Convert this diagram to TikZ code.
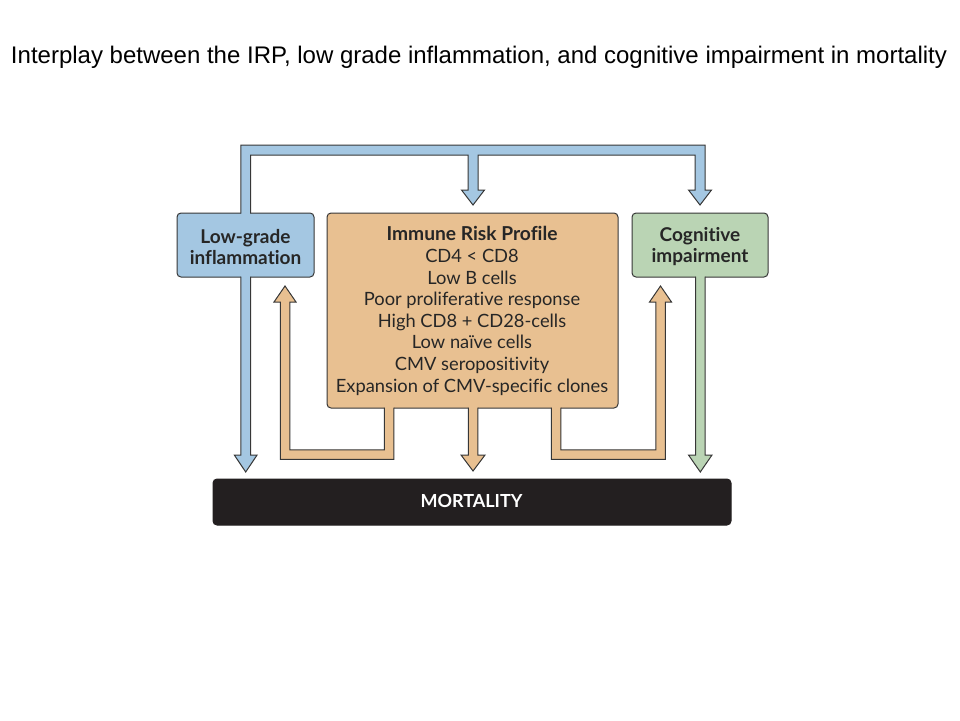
\documentclass[tikz,border=0pt]{standalone}
\usepackage{fontspec}
\setmainfont{Lato}[Ligatures=NoCommon]
\newfontfamily\titlefont{Liberation Sans}
\definecolor{cblue}{RGB}{164,199,226}
\definecolor{corange}{RGB}{232,192,145}
\definecolor{cgreen}{RGB}{186,212,180}
\definecolor{cline}{RGB}{55,55,55}
\definecolor{cdark}{RGB}{35,31,32}
\begin{document}
\begin{tikzpicture}[x=1pt,y=-1pt,
  boxstyle/.style={draw=cline,line width=1pt,rounded corners=4pt,inner sep=0pt},
  fatarrow/.style={draw=cline,line width=1pt,line join=miter},
  boxtext/.style={inner sep=0pt,align=center,text=black!85},
  boldtext/.style={boxtext,font=\bfseries\fontsize{19}{21}\selectfont}]
\useasboundingbox (0,0) rectangle (960,720);
\node[font=\titlefont\fontsize{24}{28}\selectfont,anchor=base] (title) at (479,63) {Interplay between the IRP, low grade inflammation, and cognitive impairment in mortality};
% boxes
\path[boxstyle,fill=cblue] (177,213) rectangle (314,277);
\node[boldtext] (lg) at (245.5,247) {Low-grade\\inflammation};
\path[boxstyle,fill=corange] (327,213) rectangle (618,408);
\node[boxtext,font=\fontsize{18.3}{21.6}\selectfont] (irp) at (472,311) {{\bfseries\fontsize{19.2}{21.6}\selectfont Immune Risk Profile}\\CD4 < CD8\\Low B cells\\Poor proliferative response\\High CD8 + CD28-cells\\Low naïve cells\\CMV seropositivity\\Expansion of CMV-specific clones};
\path[boxstyle,fill=cgreen] (632,213) rectangle (768,277);
\node[boldtext] (ci) at (700,247) {Cognitive\\impairment};
\path[boxstyle,fill=cdark,draw=cdark] (213,479) rectangle (731,525);
\node[font=\bfseries\fontsize{18}{21}\selectfont,text=white,inner sep=0pt] (mort) at (471.5,500.5) {MORTALITY};
% blue top arrow (from low-grade inflammation to IRP and cognitive impairment)
\fill[cblue] (240.9,214.5) -- (240.9,145) -- (705,145) -- (705,190) -- (711.5,190) -- (700,205) -- (688.5,190) -- (695,190) -- (695,155) -- (478,155) -- (478,190) -- (484.5,190) -- (473,205) -- (461.5,190) -- (468,190) -- (468,155) -- (250.5,155) -- (250.5,214.5) -- cycle;
\draw[fatarrow] (240.9,213.5) -- (240.9,145) -- (705,145) -- (705,190) -- (711.5,190) -- (700,205) -- (688.5,190) -- (695,190) -- (695,155) -- (478,155) -- (478,190) -- (484.5,190) -- (473,205) -- (461.5,190) -- (468,190) -- (468,155) -- (250.5,155) -- (250.5,213.5);
% blue down arrow
\fill[cblue] (240.9,275.5) -- (240.9,455) -- (234.3,455) -- (245.7,472) -- (257.1,455) -- (250.5,455) -- (250.5,275.5) -- cycle;
\draw[fatarrow] (240.9,276.5) -- (240.9,455) -- (234.3,455) -- (245.7,472) -- (257.1,455) -- (250.5,455) -- (250.5,276.5);
% green down arrow
\fill[cgreen] (695.5,275.5) -- (695.5,455) -- (688.5,455) -- (700.3,472) -- (712,455) -- (705,455) -- (705,275.5) -- cycle;
\draw[fatarrow] (695.5,276.5) -- (695.5,455) -- (688.5,455) -- (700.3,472) -- (712,455) -- (705,455) -- (705,276.5);
% orange left loop
\fill[corange] (384.25,406.5) -- (384.25,449.75) -- (289.75,449.75) -- (289.75,302) -- (296,302) -- (285,286) -- (274,302) -- (280.25,302) -- (280.25,459.25) -- (393.75,459.25) -- (393.75,406.5) -- cycle;
\draw[fatarrow] (384.25,407.5) -- (384.25,449.75) -- (289.75,449.75) -- (289.75,302) -- (296,302) -- (285,286) -- (274,302) -- (280.25,302) -- (280.25,459.25) -- (393.75,459.25) -- (393.75,407.5);
% orange centre arrow
\fill[corange] (468.25,406.5) -- (468.25,455) -- (461,455) -- (473,471) -- (485,455) -- (477.75,455) -- (477.75,406.5) -- cycle;
\draw[fatarrow] (468.25,407.5) -- (468.25,455) -- (461,455) -- (473,471) -- (485,455) -- (477.75,455) -- (477.75,407.5);
% orange right loop
\fill[corange] (551.25,406.5) -- (551.25,459.25) -- (665.25,459.25) -- (665.25,302) -- (671.5,302) -- (660.5,286) -- (649.5,302) -- (655.75,302) -- (655.75,449.75) -- (560.75,449.75) -- (560.75,406.5) -- cycle;
\draw[fatarrow] (551.25,407.5) -- (551.25,459.25) -- (665.25,459.25) -- (665.25,302) -- (671.5,302) -- (660.5,286) -- (649.5,302) -- (655.75,302) -- (655.75,449.75) -- (560.75,449.75) -- (560.75,407.5);
\end{tikzpicture}
\end{document}
